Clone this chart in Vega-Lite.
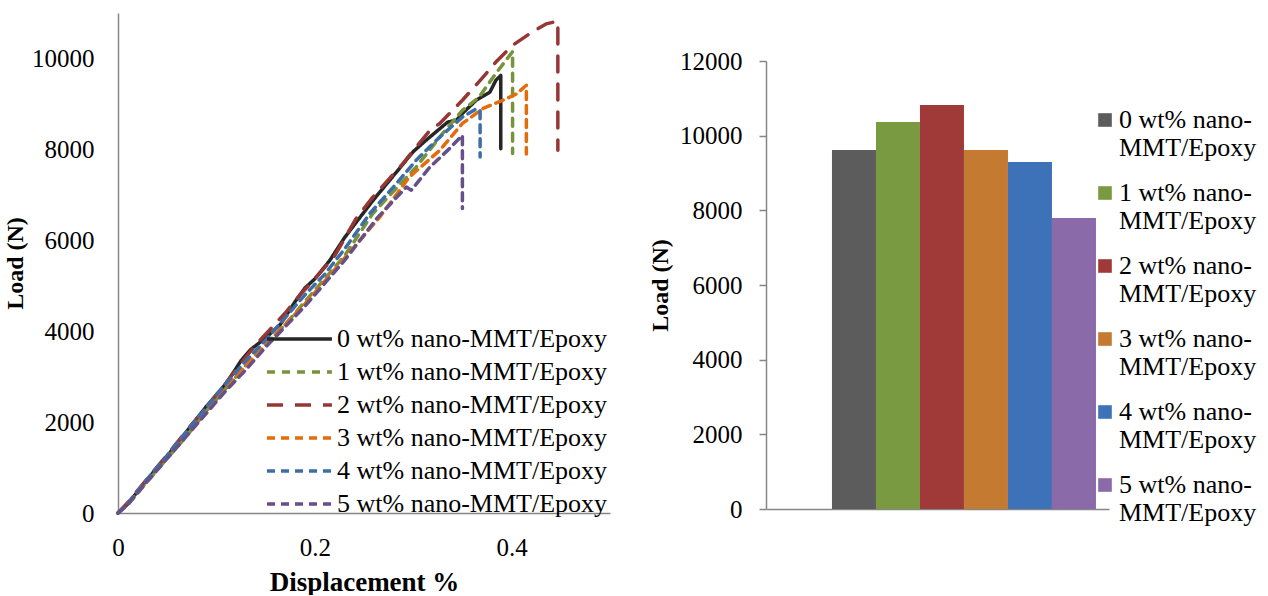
{
  "$schema": "https://vega.github.io/schema/vega-lite/v6.json",
  "background": "white",
  "padding": {"left": 3, "top": 13, "right": 0, "bottom": 0},
  "spacing": 38,
  "resolve": {"scale": {"color": "independent", "strokeDash": "independent"}, "legend": {"color": "independent", "strokeDash": "independent"}},
  "config": {
    "font": "Liberation Serif",
    "view": {"stroke": null},
    "axis": {"labelColor": "black", "titleColor": "black", "domainColor": "#868686", "domainWidth": 1.5, "tickColor": "#868686", "grid": false, "labelFontSize": 25, "titleFontSize": 24, "titleFontWeight": "bold", "labelFont": "Liberation Serif", "titleFont": "Liberation Serif"},
    "legend": {"labelFont": "Liberation Serif", "labelColor": "black", "labelFontSize": 26, "labelLimit": 400, "padding": 0}
  },
  "hconcat": [
    {
      "width": 492,
      "height": 500,
      "data": {"values": [
        {"s":"0 wt% nano-MMT/Epoxy","i":0,"x":0,"y":0},
        {"s":"0 wt% nano-MMT/Epoxy","i":1,"x":0.01,"y":200},
        {"s":"0 wt% nano-MMT/Epoxy","i":2,"x":0.03,"y":750},
        {"s":"0 wt% nano-MMT/Epoxy","i":3,"x":0.05,"y":1250},
        {"s":"0 wt% nano-MMT/Epoxy","i":4,"x":0.07,"y":1800},
        {"s":"0 wt% nano-MMT/Epoxy","i":5,"x":0.09,"y":2350},
        {"s":"0 wt% nano-MMT/Epoxy","i":6,"x":0.11,"y":2850},
        {"s":"0 wt% nano-MMT/Epoxy","i":7,"x":0.125,"y":3350},
        {"s":"0 wt% nano-MMT/Epoxy","i":8,"x":0.135,"y":3600},
        {"s":"0 wt% nano-MMT/Epoxy","i":9,"x":0.15,"y":3850},
        {"s":"0 wt% nano-MMT/Epoxy","i":10,"x":0.165,"y":4150},
        {"s":"0 wt% nano-MMT/Epoxy","i":11,"x":0.18,"y":4650},
        {"s":"0 wt% nano-MMT/Epoxy","i":12,"x":0.19,"y":4950},
        {"s":"0 wt% nano-MMT/Epoxy","i":13,"x":0.2,"y":5150},
        {"s":"0 wt% nano-MMT/Epoxy","i":14,"x":0.215,"y":5550},
        {"s":"0 wt% nano-MMT/Epoxy","i":15,"x":0.23,"y":6050},
        {"s":"0 wt% nano-MMT/Epoxy","i":16,"x":0.244,"y":6450},
        {"s":"0 wt% nano-MMT/Epoxy","i":17,"x":0.26,"y":6900},
        {"s":"0 wt% nano-MMT/Epoxy","i":18,"x":0.283,"y":7500},
        {"s":"0 wt% nano-MMT/Epoxy","i":19,"x":0.3,"y":7950},
        {"s":"0 wt% nano-MMT/Epoxy","i":20,"x":0.313,"y":8200},
        {"s":"0 wt% nano-MMT/Epoxy","i":21,"x":0.335,"y":8600},
        {"s":"0 wt% nano-MMT/Epoxy","i":22,"x":0.344,"y":8640},
        {"s":"0 wt% nano-MMT/Epoxy","i":23,"x":0.35,"y":8790},
        {"s":"0 wt% nano-MMT/Epoxy","i":24,"x":0.364,"y":9080},
        {"s":"0 wt% nano-MMT/Epoxy","i":25,"x":0.378,"y":9260},
        {"s":"0 wt% nano-MMT/Epoxy","i":26,"x":0.384,"y":9520},
        {"s":"0 wt% nano-MMT/Epoxy","i":27,"x":0.389,"y":9626},
        {"s":"0 wt% nano-MMT/Epoxy","i":28,"x":0.389,"y":8015},

        {"s":"1 wt% nano-MMT/Epoxy","i":0,"x":0,"y":0},
        {"s":"1 wt% nano-MMT/Epoxy","i":1,"x":0.01,"y":180},
        {"s":"1 wt% nano-MMT/Epoxy","i":2,"x":0.03,"y":700},
        {"s":"1 wt% nano-MMT/Epoxy","i":3,"x":0.05,"y":1200},
        {"s":"1 wt% nano-MMT/Epoxy","i":4,"x":0.07,"y":1700},
        {"s":"1 wt% nano-MMT/Epoxy","i":5,"x":0.09,"y":2250},
        {"s":"1 wt% nano-MMT/Epoxy","i":6,"x":0.11,"y":2750},
        {"s":"1 wt% nano-MMT/Epoxy","i":7,"x":0.13,"y":3250},
        {"s":"1 wt% nano-MMT/Epoxy","i":8,"x":0.15,"y":3700},
        {"s":"1 wt% nano-MMT/Epoxy","i":9,"x":0.17,"y":4150},
        {"s":"1 wt% nano-MMT/Epoxy","i":10,"x":0.19,"y":4650},
        {"s":"1 wt% nano-MMT/Epoxy","i":11,"x":0.21,"y":5150},
        {"s":"1 wt% nano-MMT/Epoxy","i":12,"x":0.23,"y":5650},
        {"s":"1 wt% nano-MMT/Epoxy","i":13,"x":0.259,"y":6590},
        {"s":"1 wt% nano-MMT/Epoxy","i":14,"x":0.303,"y":7610},
        {"s":"1 wt% nano-MMT/Epoxy","i":15,"x":0.33,"y":8350},
        {"s":"1 wt% nano-MMT/Epoxy","i":16,"x":0.35,"y":8860},
        {"s":"1 wt% nano-MMT/Epoxy","i":17,"x":0.367,"y":9150},
        {"s":"1 wt% nano-MMT/Epoxy","i":18,"x":0.384,"y":9670},
        {"s":"1 wt% nano-MMT/Epoxy","i":19,"x":0.401,"y":10150},
        {"s":"1 wt% nano-MMT/Epoxy","i":20,"x":0.401,"y":7910},

        {"s":"2 wt% nano-MMT/Epoxy","i":0,"x":0,"y":0},
        {"s":"2 wt% nano-MMT/Epoxy","i":1,"x":0.01,"y":230},
        {"s":"2 wt% nano-MMT/Epoxy","i":2,"x":0.03,"y":760},
        {"s":"2 wt% nano-MMT/Epoxy","i":3,"x":0.05,"y":1280},
        {"s":"2 wt% nano-MMT/Epoxy","i":4,"x":0.07,"y":1820},
        {"s":"2 wt% nano-MMT/Epoxy","i":5,"x":0.09,"y":2330},
        {"s":"2 wt% nano-MMT/Epoxy","i":6,"x":0.11,"y":2870},
        {"s":"2 wt% nano-MMT/Epoxy","i":7,"x":0.125,"y":3300},
        {"s":"2 wt% nano-MMT/Epoxy","i":8,"x":0.14,"y":3700},
        {"s":"2 wt% nano-MMT/Epoxy","i":9,"x":0.155,"y":4050},
        {"s":"2 wt% nano-MMT/Epoxy","i":10,"x":0.17,"y":4400},
        {"s":"2 wt% nano-MMT/Epoxy","i":11,"x":0.185,"y":4800},
        {"s":"2 wt% nano-MMT/Epoxy","i":12,"x":0.2,"y":5150},
        {"s":"2 wt% nano-MMT/Epoxy","i":13,"x":0.22,"y":5650},
        {"s":"2 wt% nano-MMT/Epoxy","i":14,"x":0.242,"y":6480},
        {"s":"2 wt% nano-MMT/Epoxy","i":15,"x":0.259,"y":6950},
        {"s":"2 wt% nano-MMT/Epoxy","i":16,"x":0.288,"y":7650},
        {"s":"2 wt% nano-MMT/Epoxy","i":17,"x":0.317,"y":8420},
        {"s":"2 wt% nano-MMT/Epoxy","i":18,"x":0.327,"y":8570},
        {"s":"2 wt% nano-MMT/Epoxy","i":19,"x":0.35,"y":9080},
        {"s":"2 wt% nano-MMT/Epoxy","i":20,"x":0.371,"y":9590},
        {"s":"2 wt% nano-MMT/Epoxy","i":21,"x":0.384,"y":9920},
        {"s":"2 wt% nano-MMT/Epoxy","i":22,"x":0.401,"y":10290},
        {"s":"2 wt% nano-MMT/Epoxy","i":23,"x":0.418,"y":10540},
        {"s":"2 wt% nano-MMT/Epoxy","i":24,"x":0.435,"y":10760},
        {"s":"2 wt% nano-MMT/Epoxy","i":25,"x":0.447,"y":10820},
        {"s":"2 wt% nano-MMT/Epoxy","i":26,"x":0.447,"y":7980},

        {"s":"3 wt% nano-MMT/Epoxy","i":0,"x":0,"y":0},
        {"s":"3 wt% nano-MMT/Epoxy","i":1,"x":0.01,"y":200},
        {"s":"3 wt% nano-MMT/Epoxy","i":2,"x":0.03,"y":720},
        {"s":"3 wt% nano-MMT/Epoxy","i":3,"x":0.05,"y":1220},
        {"s":"3 wt% nano-MMT/Epoxy","i":4,"x":0.07,"y":1750},
        {"s":"3 wt% nano-MMT/Epoxy","i":5,"x":0.09,"y":2250},
        {"s":"3 wt% nano-MMT/Epoxy","i":6,"x":0.11,"y":2750},
        {"s":"3 wt% nano-MMT/Epoxy","i":7,"x":0.13,"y":3250},
        {"s":"3 wt% nano-MMT/Epoxy","i":8,"x":0.15,"y":3700},
        {"s":"3 wt% nano-MMT/Epoxy","i":9,"x":0.17,"y":4150},
        {"s":"3 wt% nano-MMT/Epoxy","i":10,"x":0.19,"y":4600},
        {"s":"3 wt% nano-MMT/Epoxy","i":11,"x":0.21,"y":5100},
        {"s":"3 wt% nano-MMT/Epoxy","i":12,"x":0.23,"y":5600},
        {"s":"3 wt% nano-MMT/Epoxy","i":13,"x":0.266,"y":6510},
        {"s":"3 wt% nano-MMT/Epoxy","i":14,"x":0.296,"y":7390},
        {"s":"3 wt% nano-MMT/Epoxy","i":15,"x":0.327,"y":7980},
        {"s":"3 wt% nano-MMT/Epoxy","i":16,"x":0.35,"y":8570},
        {"s":"3 wt% nano-MMT/Epoxy","i":17,"x":0.371,"y":8900},
        {"s":"3 wt% nano-MMT/Epoxy","i":18,"x":0.391,"y":9080},
        {"s":"3 wt% nano-MMT/Epoxy","i":19,"x":0.405,"y":9220},
        {"s":"3 wt% nano-MMT/Epoxy","i":20,"x":0.415,"y":9410},
        {"s":"3 wt% nano-MMT/Epoxy","i":21,"x":0.415,"y":7900},

        {"s":"4 wt% nano-MMT/Epoxy","i":0,"x":0,"y":0},
        {"s":"4 wt% nano-MMT/Epoxy","i":1,"x":0.01,"y":220},
        {"s":"4 wt% nano-MMT/Epoxy","i":2,"x":0.03,"y":750},
        {"s":"4 wt% nano-MMT/Epoxy","i":3,"x":0.05,"y":1270},
        {"s":"4 wt% nano-MMT/Epoxy","i":4,"x":0.07,"y":1800},
        {"s":"4 wt% nano-MMT/Epoxy","i":5,"x":0.09,"y":2330},
        {"s":"4 wt% nano-MMT/Epoxy","i":6,"x":0.11,"y":2850},
        {"s":"4 wt% nano-MMT/Epoxy","i":7,"x":0.13,"y":3350},
        {"s":"4 wt% nano-MMT/Epoxy","i":8,"x":0.15,"y":3800},
        {"s":"4 wt% nano-MMT/Epoxy","i":9,"x":0.17,"y":4300},
        {"s":"4 wt% nano-MMT/Epoxy","i":10,"x":0.19,"y":4800},
        {"s":"4 wt% nano-MMT/Epoxy","i":11,"x":0.21,"y":5250},
        {"s":"4 wt% nano-MMT/Epoxy","i":12,"x":0.23,"y":5800},
        {"s":"4 wt% nano-MMT/Epoxy","i":13,"x":0.256,"y":6590},
        {"s":"4 wt% nano-MMT/Epoxy","i":14,"x":0.283,"y":7250},
        {"s":"4 wt% nano-MMT/Epoxy","i":15,"x":0.303,"y":7760},
        {"s":"4 wt% nano-MMT/Epoxy","i":16,"x":0.327,"y":8270},
        {"s":"4 wt% nano-MMT/Epoxy","i":17,"x":0.35,"y":8710},
        {"s":"4 wt% nano-MMT/Epoxy","i":18,"x":0.364,"y":8890},
        {"s":"4 wt% nano-MMT/Epoxy","i":19,"x":0.368,"y":8850},
        {"s":"4 wt% nano-MMT/Epoxy","i":20,"x":0.368,"y":7830},

        {"s":"5 wt% nano-MMT/Epoxy","i":0,"x":0,"y":0},
        {"s":"5 wt% nano-MMT/Epoxy","i":1,"x":0.01,"y":190},
        {"s":"5 wt% nano-MMT/Epoxy","i":2,"x":0.03,"y":700},
        {"s":"5 wt% nano-MMT/Epoxy","i":3,"x":0.05,"y":1200},
        {"s":"5 wt% nano-MMT/Epoxy","i":4,"x":0.07,"y":1700},
        {"s":"5 wt% nano-MMT/Epoxy","i":5,"x":0.09,"y":2200},
        {"s":"5 wt% nano-MMT/Epoxy","i":6,"x":0.11,"y":2700},
        {"s":"5 wt% nano-MMT/Epoxy","i":7,"x":0.13,"y":3150},
        {"s":"5 wt% nano-MMT/Epoxy","i":8,"x":0.15,"y":3650},
        {"s":"5 wt% nano-MMT/Epoxy","i":9,"x":0.17,"y":4100},
        {"s":"5 wt% nano-MMT/Epoxy","i":10,"x":0.19,"y":4550},
        {"s":"5 wt% nano-MMT/Epoxy","i":11,"x":0.21,"y":5050},
        {"s":"5 wt% nano-MMT/Epoxy","i":12,"x":0.23,"y":5550},
        {"s":"5 wt% nano-MMT/Epoxy","i":13,"x":0.263,"y":6480},
        {"s":"5 wt% nano-MMT/Epoxy","i":14,"x":0.293,"y":7170},
        {"s":"5 wt% nano-MMT/Epoxy","i":15,"x":0.298,"y":7100},
        {"s":"5 wt% nano-MMT/Epoxy","i":16,"x":0.317,"y":7610},
        {"s":"5 wt% nano-MMT/Epoxy","i":17,"x":0.337,"y":8020},
        {"s":"5 wt% nano-MMT/Epoxy","i":18,"x":0.35,"y":8310},
        {"s":"5 wt% nano-MMT/Epoxy","i":19,"x":0.35,"y":6700}
      ]},
      "mark": {"type": "line", "strokeWidth": 3.5, "strokeCap": "round", "strokeJoin": "round"},
      "encoding": {
        "x": {"field": "x", "type": "quantitative", "scale": {"domain": [0, 0.5], "nice": false, "zero": false},
              "axis": {"values": [0, 0.2, 0.4], "format": "~g", "title": "Displacement %", "titleFontSize": 27, "ticks": false, "tickSize": 0, "labelPadding": 22, "titlePadding": 9, "labelFlush": false}},
        "y": {"field": "y", "type": "quantitative", "scale": {"domain": [0, 11000], "nice": false},
              "axis": {"values": [0, 2000, 4000, 6000, 8000, 10000], "format": "d", "title": "Load (N)", "ticks": false, "tickSize": 0, "labelPadding": 24, "titlePadding": 4}},
        "color": {"field": "s", "type": "nominal", "title": null,
                  "scale": {"domain": ["0 wt% nano-MMT/Epoxy","1 wt% nano-MMT/Epoxy","2 wt% nano-MMT/Epoxy","3 wt% nano-MMT/Epoxy","4 wt% nano-MMT/Epoxy","5 wt% nano-MMT/Epoxy"],
                            "range": ["#262626", "#77933c", "#953735", "#e46c0a", "#3e6ea8", "#65508a"]},
                  "legend": {"orient": "none", "legendX": 183, "legendY": 309, "symbolType": "M-3.4,0H0.93", "symbolSize": 900, "symbolStrokeWidth": 3.5, "symbolFillColor": "transparent", "labelOffset": 2, "rowPadding": 3}},
        "strokeDash": {"field": "s", "type": "nominal", "title": null,
                  "scale": {"domain": ["0 wt% nano-MMT/Epoxy","1 wt% nano-MMT/Epoxy","2 wt% nano-MMT/Epoxy","3 wt% nano-MMT/Epoxy","4 wt% nano-MMT/Epoxy","5 wt% nano-MMT/Epoxy"],
                            "range": [[1, 0], [8, 7], [16, 12], [8, 6], [8, 6], [8, 6]]}},
        "order": {"field": "i", "type": "quantitative"}
      }
    },
    {
      "spacing": 10,
      "resolve": {"scale": {"color": "independent"}, "legend": {"color": "independent"}},
      "vconcat": [
        {
          "width": 343,
          "height": 26,
          "data": {"values": []},
          "mark": "point",
          "encoding": {}
        },
        {
          "width": 343,
          "height": 448,
          "data": {"values": [
            {"s": "0 wt% nano-MMT/Epoxy", "v": 9618},
            {"s": "1 wt% nano-MMT/Epoxy", "v": 10367},
            {"s": "2 wt% nano-MMT/Epoxy", "v": 10822},
            {"s": "3 wt% nano-MMT/Epoxy", "v": 9618},
            {"s": "4 wt% nano-MMT/Epoxy", "v": 9297},
            {"s": "5 wt% nano-MMT/Epoxy", "v": 7797}
          ]},
          "mark": {"type": "bar"},
          "encoding": {
            "x": {"field": "s", "type": "nominal", "sort": null,
                  "scale": {"paddingInner": 0, "paddingOuter": 0.898, "align": 0.835},
                  "axis": {"labels": false, "ticks": false, "title": null}},
            "y": {"field": "v", "type": "quantitative", "scale": {"domain": [0, 12000], "nice": false},
                  "axis": {"values": [0, 2000, 4000, 6000, 8000, 10000, 12000], "format": "d", "title": "Load (N)", "ticks": true, "tickSize": 7, "tickWidth": 1.5, "labelPadding": 17, "titlePadding": 7}},
            "color": {"field": "s", "type": "nominal", "sort": null, "title": null,
                      "scale": {"range": ["#5c5c5c", "#7a9a42", "#a03a38", "#c47a30", "#3e72b8", "#8a6aa8"]},
                      "legend": {"orient": "none", "legendX": 326, "legendY": 46, "symbolType": "square", "symbolSize": 185, "symbolStrokeWidth": 0,
                                 "labelExpr": "[slice(datum.label, 0, 11), slice(datum.label, 11)]", "labelLineHeight": 30, "labelOffset": 1, "rowPadding": 19}}
          }
        }
      ]
    }
  ]
}
